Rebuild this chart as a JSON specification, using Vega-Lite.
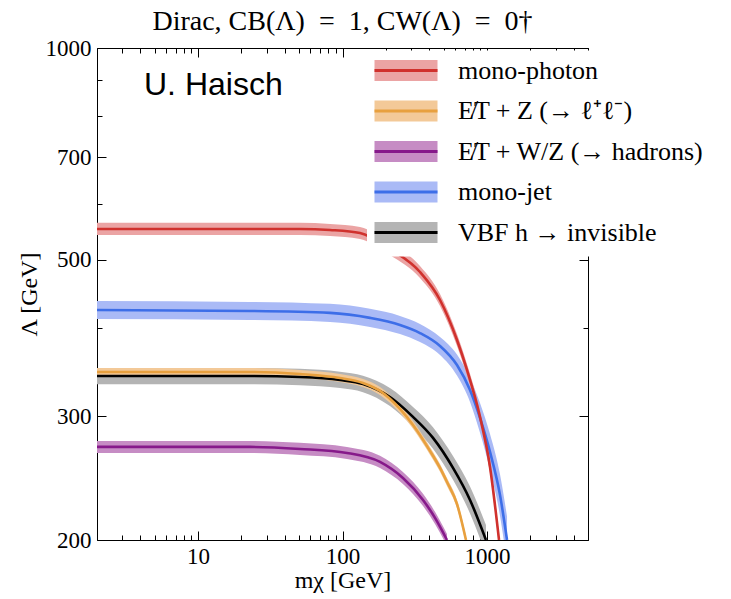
{
  "$schema": "https://vega.github.io/schema/vega-lite/v6.json",
  "width": 491,
  "height": 492,
  "autosize": "none",
  "padding": {"left": 97, "top": 48, "right": 143, "bottom": 59},
  "background": "white",
  "title": {"text": "Dirac, CB(Λ)\u2002=\u20021, CW(Λ)\u2002=\u20020†", "font": "Liberation Serif", "fontSize": 28, "fontWeight": "normal", "color": "black", "offset": 1, "anchor": "middle"},
  "config": {"view": {"stroke": "black", "strokeWidth": 1}},
  "datasets": {
    "curves": [
      {"series": "E\u0338T + W/Z (→ hadrons)", "ord": 3, "m": 2, "lam": 271.2, "lo": 265.9, "hi": 276.6},
      {"series": "E\u0338T + W/Z (→ hadrons)", "ord": 3, "m": 22.9, "lam": 271.2, "lo": 265.9, "hi": 276.6},
      {"series": "E\u0338T + W/Z (→ hadrons)", "ord": 3, "m": 50.8, "lam": 269.4, "lo": 264.1, "hi": 274.8},
      {"series": "E\u0338T + W/Z (→ hadrons)", "ord": 3, "m": 107.4, "lam": 265.9, "lo": 260.7, "hi": 271.2},
      {"series": "E\u0338T + W/Z (→ hadrons)", "ord": 3, "m": 181.8, "lam": 258.2, "lo": 253.1, "hi": 263.4},
      {"series": "E\u0338T + W/Z (→ hadrons)", "ord": 3, "m": 262, "lam": 245.0, "lo": 240.2, "hi": 249.9},
      {"series": "E\u0338T + W/Z (→ hadrons)", "ord": 3, "m": 360.8, "lam": 228.0, "lo": 223.5, "hi": 232.6},
      {"series": "E\u0338T + W/Z (→ hadrons)", "ord": 3, "m": 436.7, "lam": 215.0, "lo": 210.8, "hi": 219.3},
      {"series": "E\u0338T + W/Z (→ hadrons)", "ord": 3, "m": 528.7, "lam": 200, "lo": 196.1, "hi": 204.0},

      {"series": "VBF h → invisible", "ord": 5, "m": 2, "lam": 342.0, "lo": 333.0, "hi": 351.2},
      {"series": "VBF h → invisible", "ord": 5, "m": 22.9, "lam": 342.0, "lo": 333.0, "hi": 351.2},
      {"series": "VBF h → invisible", "ord": 5, "m": 50.8, "lam": 340.9, "lo": 331.9, "hi": 350.1},
      {"series": "VBF h → invisible", "ord": 5, "m": 96.1, "lam": 337.6, "lo": 328.7, "hi": 346.7},
      {"series": "VBF h → invisible", "ord": 5, "m": 138.6, "lam": 333.2, "lo": 324.4, "hi": 342.2},
      {"series": "VBF h → invisible", "ord": 5, "m": 213, "lam": 319.3, "lo": 310.0, "hi": 328.9},
      {"series": "VBF h → invisible", "ord": 5, "m": 307.6, "lam": 299.2, "lo": 289.6, "hi": 309.1},
      {"series": "VBF h → invisible", "ord": 5, "m": 423, "lam": 279.3, "lo": 269.6, "hi": 289.3},
      {"series": "VBF h → invisible", "ord": 5, "m": 581.7, "lam": 253.2, "lo": 243.5, "hi": 263.3},
      {"series": "VBF h → invisible", "ord": 5, "m": 762.9, "lam": 228.0, "lo": 218.2, "hi": 238.3},
      {"series": "VBF h → invisible", "ord": 5, "m": 984, "lam": 200, "lo": 190.5, "hi": 210.0},

      {"series": "E\u0338T + Z (→ ℓ⁺ℓ⁻)", "ord": 2, "m": 2, "lam": 346.5, "lo": 342.0, "hi": 351.0},
      {"series": "E\u0338T + Z (→ ℓ⁺ℓ⁻)", "ord": 2, "m": 22.9, "lam": 346.5, "lo": 342.0, "hi": 351.0},
      {"series": "E\u0338T + Z (→ ℓ⁺ℓ⁻)", "ord": 2, "m": 50.8, "lam": 344.2, "lo": 339.8, "hi": 348.7},
      {"series": "E\u0338T + Z (→ ℓ⁺ℓ⁻)", "ord": 2, "m": 96.1, "lam": 339.8, "lo": 335.4, "hi": 344.2},
      {"series": "E\u0338T + Z (→ ℓ⁺ℓ⁻)", "ord": 2, "m": 138.6, "lam": 334.3, "lo": 330.0, "hi": 338.6},
      {"series": "E\u0338T + Z (→ ℓ⁺ℓ⁻)", "ord": 2, "m": 181.8, "lam": 325.7, "lo": 321.5, "hi": 329.9},
      {"series": "E\u0338T + Z (→ ℓ⁺ℓ⁻)", "ord": 2, "m": 250, "lam": 307.1, "lo": 303.2, "hi": 311.1},
      {"series": "E\u0338T + Z (→ ℓ⁺ℓ⁻)", "ord": 2, "m": 307.6, "lam": 291.4, "lo": 287.7, "hi": 295.2},
      {"series": "E\u0338T + Z (→ ℓ⁺ℓ⁻)", "ord": 2, "m": 403, "lam": 267.7, "lo": 264.3, "hi": 271.2},
      {"series": "E\u0338T + Z (→ ℓ⁺ℓ⁻)", "ord": 2, "m": 473, "lam": 253.2, "lo": 250.0, "hi": 256.5},
      {"series": "E\u0338T + Z (→ ℓ⁺ℓ⁻)", "ord": 2, "m": 528.7, "lam": 241.8, "lo": 238.7, "hi": 244.9},
      {"series": "E\u0338T + Z (→ ℓ⁺ℓ⁻)", "ord": 2, "m": 619.9, "lam": 225.0, "lo": 222.1, "hi": 227.9},
      {"series": "E\u0338T + Z (→ ℓ⁺ℓ⁻)", "ord": 2, "m": 715.6, "lam": 200, "lo": 197.4, "hi": 202.6},

      {"series": "mono-jet", "ord": 4, "m": 2, "lam": 424.5, "lo": 412.1, "hi": 437.2},
      {"series": "mono-jet", "ord": 4, "m": 22.9, "lam": 423.1, "lo": 410.8, "hi": 435.8},
      {"series": "mono-jet", "ord": 4, "m": 82.0, "lam": 420.4, "lo": 408.2, "hi": 433.0},
      {"series": "mono-jet", "ord": 4, "m": 155, "lam": 413.6, "lo": 401.6, "hi": 426.0},
      {"series": "mono-jet", "ord": 4, "m": 250, "lam": 404.1, "lo": 392.3, "hi": 416.2},
      {"series": "mono-jet", "ord": 4, "m": 343.8, "lam": 393.6, "lo": 382.1, "hi": 405.4},
      {"series": "mono-jet", "ord": 4, "m": 473, "lam": 377.3, "lo": 366.3, "hi": 388.6},
      {"series": "mono-jet", "ord": 4, "m": 619.9, "lam": 354.5, "lo": 342.5, "hi": 366.9},
      {"series": "mono-jet", "ord": 4, "m": 762.9, "lam": 326.7, "lo": 314.1, "hi": 339.8},
      {"series": "mono-jet", "ord": 4, "m": 894.6, "lam": 298.2, "lo": 284.0, "hi": 313.1},
      {"series": "mono-jet", "ord": 4, "m": 1049, "lam": 266.8, "lo": 251.7, "hi": 282.8},
      {"series": "mono-jet", "ord": 4, "m": 1230, "lam": 231.8, "lo": 216.6, "hi": 248.0},
      {"series": "mono-jet", "ord": 4, "m": 1376, "lam": 200, "lo": 185.2, "hi": 216.0},

      {"series": "mono-photon", "ord": 1, "m": 2, "lam": 553.3, "lo": 542.5, "hi": 564.4},
      {"series": "mono-photon", "ord": 1, "m": 22.9, "lam": 553.3, "lo": 542.5, "hi": 564.4},
      {"series": "mono-photon", "ord": 1, "m": 50.8, "lam": 553.3, "lo": 542.5, "hi": 564.4},
      {"series": "mono-photon", "ord": 1, "m": 82.0, "lam": 551.5, "lo": 540.7, "hi": 562.5},
      {"series": "mono-photon", "ord": 1, "m": 132.2, "lam": 546.1, "lo": 535.4, "hi": 557.0},
      {"series": "mono-photon", "ord": 1, "m": 213, "lam": 518.3, "lo": 508.1, "hi": 528.7},
      {"series": "mono-photon", "ord": 1, "m": 343.8, "lam": 480.6, "lo": 471.2, "hi": 490.2},
      {"series": "mono-photon", "ord": 1, "m": 473, "lam": 438.5, "lo": 429.9, "hi": 447.3},
      {"series": "mono-photon", "ord": 1, "m": 619.9, "lam": 384.7, "lo": 377.2, "hi": 392.4},
      {"series": "mono-photon", "ord": 1, "m": 727, "lam": 348.8, "lo": 342.0, "hi": 355.8},
      {"series": "mono-photon", "ord": 1, "m": 894.6, "lam": 299.2, "lo": 293.3, "hi": 305.2},
      {"series": "mono-photon", "ord": 1, "m": 1049, "lam": 254.0, "lo": 249.0, "hi": 259.1},
      {"series": "mono-photon", "ord": 1, "m": 1211, "lam": 200, "lo": 196.1, "hi": 204.0}
    ],
    "labels": [{"m": 4.23, "lam": 857.5, "text": "U. Haisch"}]
  },
  "layer": [
    {
      "data": {"name": "curves"},
      "mark": {"type": "area", "interpolate": "monotone", "clip": true},
      "encoding": {
        "x": {
          "field": "m", "type": "quantitative",
          "scale": {"type": "log", "domain": [2, 5000], "nice": false},
          "axis": {
            "orient": "bottom",
            "values": [2,3,4,5,6,7,8,9,10,20,30,40,50,60,70,80,90,100,200,300,400,500,600,700,800,900,1000,2000,3000,4000,5000],
            "labelExpr": "(datum.value == 10 || datum.value == 100 || datum.value == 1000) ? format(datum.value, 'd') : ''",
            "tickSize": {"condition": {"test": "datum.value == 10 || datum.value == 100 || datum.value == 1000", "value": -9}, "value": -5},
            "tickColor": "black", "tickWidth": 1,
            "labelPadding": 14, "labelFont": "Liberation Serif", "labelFontSize": 23, "labelColor": "black",
            "labelOverlap": false, "labelFlush": false, "domain": false, "grid": false,
            "title": "mχ [GeV]", "titleFont": "Liberation Serif", "titleFontSize": 24, "titleFontWeight": "normal", "titleColor": "black", "titlePadding": -4
          }
        },
        "y": {
          "field": "lo", "type": "quantitative",
          "scale": {"type": "log", "domain": [200, 1000], "nice": false},
          "axis": {
            "orient": "left",
            "values": [200,300,400,500,600,700,800,900,1000],
            "labelExpr": "indexof([200,300,500,700,1000], datum.value) >= 0 ? format(datum.value, 'd') : ''",
            "tickSize": {"condition": {"test": "indexof([200,300,500,700,1000], datum.value) >= 0", "value": -9}, "value": -5},
            "tickColor": "black", "tickWidth": 1,
            "labelPadding": 15, "labelFont": "Liberation Serif", "labelFontSize": 23, "labelColor": "black",
            "labelOverlap": false, "labelFlush": false, "domain": false, "grid": false,
            "title": "Λ [GeV]", "titleFont": "Liberation Serif", "titleFontSize": 24, "titleFontWeight": "normal", "titleColor": "black", "titlePadding": 4
          }
        },
        "y2": {"field": "hi"},
        "fill": {
          "field": "series", "type": "nominal",
          "sort": {"field": "ord", "op": "min"},
          "scale": {"range": ["#eba4a4", "#f3c998", "#c68cc4", "#aabaf6", "#b4b4b4"]},
          "legend": {
            "orient": "none", "legendX": 270, "legendY": 2.5, "title": null,
            "symbolType": "M-3,-1H3V1H-3Z", "symbolSize": 441, "symbolOffset": 19, "symbolStrokeWidth": 3, "symbolStrokeColor": "transparent", "symbolOpacity": 1,
            "labelFont": "Liberation Serif", "labelFontSize": 26, "labelOpacity": 0, "labelOffset": 39, "labelLimit": 400,
            "rowPadding": 6.5, "padding": 7, "fillColor": "white"
          }
        }
      }
    },
    {
      "data": {"name": "curves"},
      "mark": {"type": "line", "interpolate": "monotone", "clip": true, "strokeWidth": 2.6},
      "encoding": {
        "x": {
          "field": "m", "type": "quantitative",
          "axis": {
            "orient": "top", "labels": false, "title": null, "domain": false, "grid": false,
            "values": [2,3,4,5,6,7,8,9,10,20,30,40,50,60,70,80,90,100,200,300,400,500,600,700,800,900,1000,2000,3000,4000,5000],
            "tickSize": {"condition": {"test": "datum.value == 10 || datum.value == 100 || datum.value == 1000", "value": -9}, "value": -5},
            "tickColor": "black", "tickWidth": 1
          }
        },
        "y": {
          "field": "lam", "type": "quantitative",
          "axis": {
            "orient": "right", "labels": false, "title": null, "domain": false, "grid": false,
            "values": [200,300,400,500,600,700,800,900,1000],
            "tickSize": {"condition": {"test": "indexof([200,300,500,700,1000], datum.value) >= 0", "value": -9}, "value": -5},
            "tickColor": "black", "tickWidth": 1
          }
        },
        "stroke": {
          "field": "series", "type": "nominal",
          "sort": {"field": "ord", "op": "max"},
          "scale": {"range": ["#d0312d", "#e8a03e", "#86198a", "#3d6ee8", "#000000"]},
          "legend": {
            "orient": "none", "legendX": 270, "legendY": 2.5, "title": null,
            "symbolType": "M-3,-1M-3,0H3M3,1", "symbolSize": 441, "symbolOffset": 19, "symbolStrokeWidth": 3,
            "labelFont": "Liberation Serif", "labelFontSize": 26, "labelColor": "black", "labelOffset": 39, "labelLimit": 400,
            "rowPadding": 6.5, "padding": 7
          }
        }
      }
    },
    {
      "data": {"name": "labels"},
      "mark": {"type": "text", "font": "Liberation Sans", "fontSize": 32, "align": "left", "baseline": "alphabetic", "color": "black"},
      "encoding": {
        "x": {"field": "m", "type": "quantitative", "axis": null},
        "y": {"field": "lam", "type": "quantitative", "axis": null},
        "text": {"field": "text"}
      }
    }
  ],
  "resolve": {"axis": {"x": "independent", "y": "independent"}}
}
